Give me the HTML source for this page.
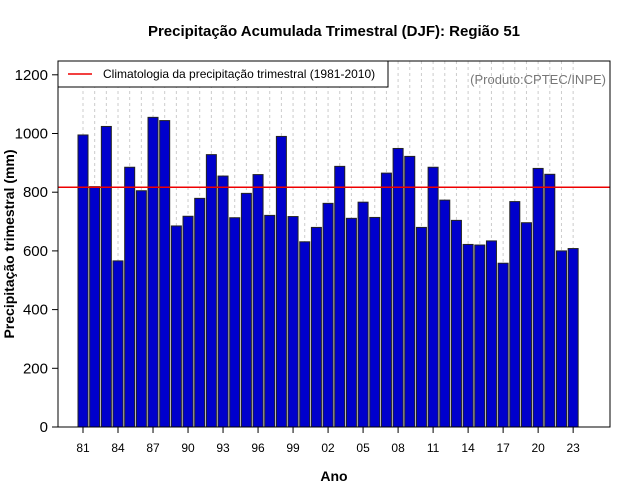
<!DOCTYPE html>
<html><head><meta charset="utf-8"><style>
body{margin:0;background:#fff}
svg{display:block;font-family:"Liberation Sans",sans-serif}
</style></head><body>
<svg id="c" width="640" height="500">
<rect width="640" height="500" fill="#fff"/>
<text x="334" y="36" text-anchor="middle" font-size="15" font-weight="bold">Precipitação Acumulada Trimestral (DJF): Região 51</text>
<text x="334" y="481" text-anchor="middle" font-size="14" font-weight="bold">Ano</text>
<text transform="translate(14,244) rotate(-90)" text-anchor="middle" font-size="14" font-weight="bold">Precipitação trimestral (mm)</text>
<g id="grid"></g><g id="bars"></g><g id="axes"></g>
<rect x="58" y="61" width="552" height="366" fill="none" stroke="#000"/>
<g>
<rect x="58" y="61" width="330" height="26" fill="#fff" stroke="#000"/>
<line x1="68" y1="74" x2="92" y2="74" stroke="#e00" stroke-width="1.5"/>
<text x="103" y="78" font-size="12">Climatologia da precipitação trimestral (1981-2010)</text>
</g>
<text x="606" y="84" text-anchor="end" font-size="13" fill="#777">(Produto:CPTEC/INPE)</text>
</svg>
<script>
const years=[81,82,83,84,85,86,87,88,89,90,91,92,93,94,95,96,97,98,99,0,1,2,3,4,5,6,7,8,9,10,11,12,13,14,15,16,17,18,19,20,21,22,23];
const values=[995,819,1024,566,885,805,1055,1044,685,718,779,928,855,713,796,860,721,990,717,631,680,762,888,711,766,714,865,949,922,680,885,773,704,622,620,634,558,768,696,881,861,600,608];
const climatology=817;
const yTicks=[0,200,400,600,800,1000,1200];
const NS="http://www.w3.org/2000/svg";
const x=i=>83+i*11.67;
const y=v=>427-v*0.2935;
function mk(t,a,p){const e=document.createElementNS(NS,t);for(const k in a)e.setAttribute(k,a[k]);p.appendChild(e);return e;}
const g=document.getElementById('grid'),b=document.getElementById('bars'),ax=document.getElementById('axes');
values.forEach((v,i)=>{
 const gl=mk('line',{x1:x(i),x2:x(i),y1:61,y2:427,stroke:'#ccc','stroke-dasharray':'3,3'},g);
 
 
 const r=mk('rect',{x:x(i)-5,y:y(v),width:10,height:427-y(v),fill:'#0000cc',stroke:'#222','stroke-width':1},b);
 
 
 if(i%3===0){
  const tk=mk('line',{x1:x(i),x2:x(i),y1:427,y2:433,stroke:'#000'},ax);
  
  
  const t=mk('text',{x:x(i),y:452,'text-anchor':'middle','font-size':12},ax);
  t.textContent=String(years[i]).padStart(2,'0');
  
  
 }
});
const cl=mk('line',{x1:58,x2:610,y1:y(climatology),y2:y(climatology),stroke:'#e00','stroke-width':1.5},b);


yTicks.forEach(v=>{
 const tk=mk('line',{x1:52,x2:58,y1:y(v),y2:y(v),stroke:'#000'},ax);
 
 
 const t=mk('text',{x:48,y:y(v)+5,'text-anchor':'end','font-size':15},ax);
 t.textContent=v;
 
 
});
</script>
</body></html>
